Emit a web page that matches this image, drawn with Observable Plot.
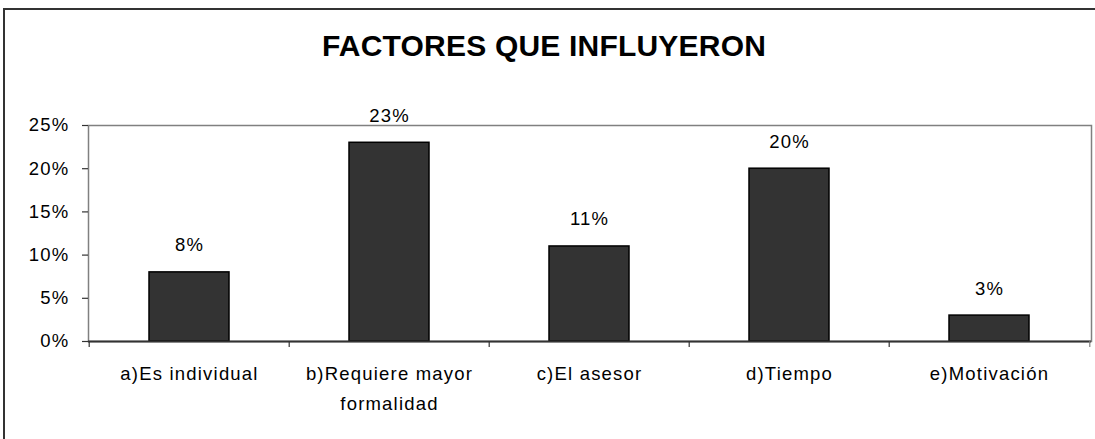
<!DOCTYPE html>
<html>
<head>
<meta charset="utf-8">
<script src="https://cdn.jsdelivr.net/npm/d3@7"></script>
<script src="https://cdn.jsdelivr.net/npm/@observablehq/plot@0.6"></script>
<style>
  html, body { margin: 0; padding: 0; background: #fff; }
  #wrap { position: relative; width: 1095px; height: 439px; overflow: hidden; background: #fff; font-family: "Liberation Sans", Arial, sans-serif; }
  #chart { position: absolute; left: 0; top: 0; }
  #border { position: absolute; left: 3px; top: 8px; width: 1110px; height: 460px; border-left: 2px solid #333; border-top: 2px solid #333; box-sizing: border-box; pointer-events: none; }
  #title { position: absolute; left: 0; top: 30px; width: 1088px; text-align: center; font-weight: bold; font-size: 30px; line-height: 32px; color: #000; letter-spacing: 0.2px; }
</style>
</head>
<body>
<div id="wrap">
  <div id="chart"></div>
  <div id="border"></div>
  <div id="title">FACTORES QUE INFLUYERON</div>
</div>
<script>
const categories = ["a)Es individual", "b)Requiere mayor formalidad", "c)El asesor", "d)Tiempo", "e)Motivación"];
const values = [0.08, 0.23, 0.11, 0.20, 0.03];
const yTicks = [0, 0.05, 0.10, 0.15, 0.20, 0.25];

const data = categories.map((c, i) => ({category: c, value: values[i]}));
const pct = d3.format(".0%");

const W = 1095, H = 439, mL = 88, mR = 4, mT = 125, mB = 98;
const step = (W - mL - mR) / categories.length;

const plot = Plot.plot({
  width: W,
  height: H,
  marginLeft: mL,
  marginRight: mR,
  marginTop: mT,
  marginBottom: mB,
  style: {fontFamily: "'Liberation Sans', Arial, sans-serif", fontSize: "18px", letterSpacing: "1.2px", color: "#000", background: "transparent"},
  x: {domain: categories, paddingInner: 0.6, paddingOuter: 0.3, label: null},
  y: {domain: [0, 0.25], label: null},
  marks: [
    Plot.frame({stroke: "#808080", strokeWidth: 1.5}),
    Plot.barY(data, {x: "category", y: "value", fill: "#333333", stroke: "#000", strokeWidth: 1.5}),
    Plot.ruleY([0], {stroke: "#333", strokeWidth: 2}),
    Plot.axisY({ticks: yTicks, tickFormat: pct, tickSize: 6, tickPadding: 13, fontSize: 18.5, stroke: "#333", strokeWidth: 1.2, label: null}),
    Plot.axisX({tickSize: 0, tickPadding: 17, fontSize: 18.5, lineWidth: 10, lineHeight: 1.62, label: null}),
    Plot.axisX({tickSize: 6, tickFormat: () => "", dx: -step / 2, stroke: "#333", strokeWidth: 1.2, label: null}),
    Plot.axisX({ticks: [categories[categories.length - 1]], tickSize: 6, tickFormat: () => "", dx: step / 2, stroke: "#808080", strokeWidth: 1.2, label: null}),
    Plot.text(data, {x: "category", y: "value", text: d => pct(d.value), dy: -27, fontSize: 18.5, fill: "#000"})
  ]
});
document.getElementById("chart").appendChild(plot);
</script>
</body>
</html>
